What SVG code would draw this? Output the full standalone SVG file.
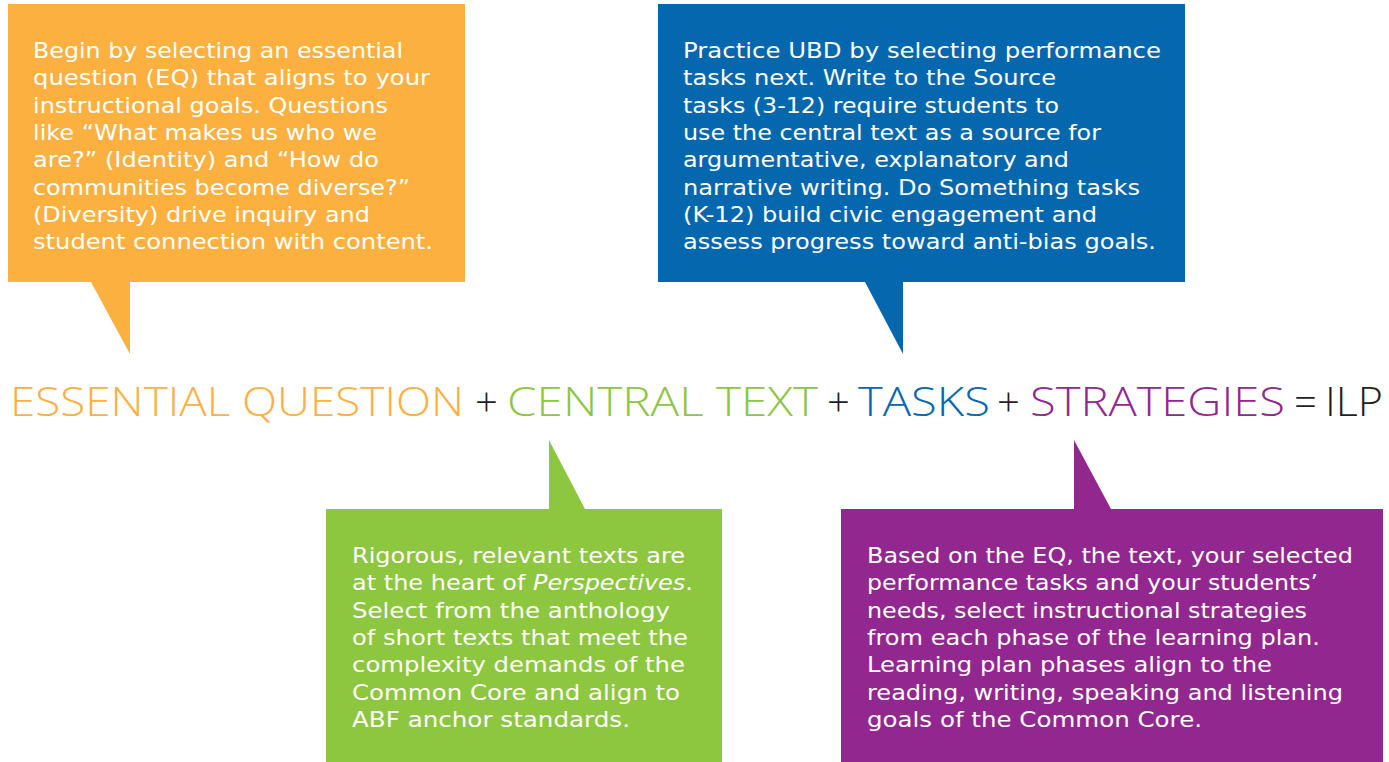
<svg xmlns="http://www.w3.org/2000/svg" width="1389" height="762" viewBox="0 0 1389 762">
<style>
.bt{font-family:"DejaVu Sans","Open Sans","Liberation Sans",sans-serif;font-size:22px;fill:#ffffff}
.eq{font-family:"Open Sans","Noto Sans","Liberation Sans",sans-serif;font-size:40px;font-weight:300}
.op{fill:#231f20}
</style>
<rect width="1389" height="762" fill="#ffffff"/>
<g id="essential-question-callout">
<path d="M8,4 H465 V282 H130 V354 L91,282 H8 Z" fill="#fbb040"/>
<text class="bt" x="33" y="58" textLength="370" lengthAdjust="spacingAndGlyphs">Begin by selecting an essential</text>
<text class="bt" x="33" y="85.3" textLength="397" lengthAdjust="spacingAndGlyphs">question (EQ) that aligns to your</text>
<text class="bt" x="33" y="112.6" textLength="355" lengthAdjust="spacingAndGlyphs">instructional goals. Questions</text>
<text class="bt" x="33" y="140" textLength="344" lengthAdjust="spacingAndGlyphs">like “What makes us who we</text>
<text class="bt" x="33" y="167.2" textLength="346" lengthAdjust="spacingAndGlyphs">are?” (Identity) and “How do</text>
<text class="bt" x="33" y="194.5" textLength="377" lengthAdjust="spacingAndGlyphs">communities become diverse?”</text>
<text class="bt" x="33" y="221.8" textLength="337" lengthAdjust="spacingAndGlyphs">(Diversity) drive inquiry and</text>
<text class="bt" x="33" y="249" textLength="400" lengthAdjust="spacingAndGlyphs">student connection with content.</text>
</g>
<g id="tasks-callout">
<path d="M658,4 H1185 V282 H903 V354 L865,282 H658 Z" fill="#0567ae"/>
<text class="bt" x="683" y="58" textLength="478" lengthAdjust="spacingAndGlyphs">Practice UBD by selecting performance</text>
<text class="bt" x="683" y="85.3" textLength="373" lengthAdjust="spacingAndGlyphs">tasks next. Write to the Source</text>
<text class="bt" x="683" y="112.6" textLength="376" lengthAdjust="spacingAndGlyphs">tasks (3-12) require students to</text>
<text class="bt" x="683" y="140" textLength="418" lengthAdjust="spacingAndGlyphs">use the central text as a source for</text>
<text class="bt" x="683" y="167.2" textLength="386" lengthAdjust="spacingAndGlyphs">argumentative, explanatory and</text>
<text class="bt" x="683" y="194.5" textLength="457" lengthAdjust="spacingAndGlyphs">narrative writing. Do Something tasks</text>
<text class="bt" x="683" y="221.8" textLength="414" lengthAdjust="spacingAndGlyphs">(K-12) build civic engagement and</text>
<text class="bt" x="683" y="249" textLength="473" lengthAdjust="spacingAndGlyphs">assess progress toward anti-bias goals.</text>
</g>
<g id="equation">
<text class="eq" x="10" y="416" fill="#fbb040" textLength="454" lengthAdjust="spacingAndGlyphs">ESSENTIAL QUESTION</text>
<text class="eq op" x="486.5" y="416" text-anchor="middle">+</text>
<text class="eq" x="507" y="416" fill="#8dc63f" textLength="311" lengthAdjust="spacingAndGlyphs">CENTRAL TEXT</text>
<text class="eq op" x="838.5" y="416" text-anchor="middle">+</text>
<text class="eq" x="858" y="416" fill="#0567ae" textLength="132" lengthAdjust="spacingAndGlyphs">TASKS</text>
<text class="eq op" x="1008.5" y="416" text-anchor="middle">+</text>
<text class="eq" x="1030" y="416" fill="#92278f" textLength="255" lengthAdjust="spacingAndGlyphs">STRATEGIES</text>
<text class="eq op" x="1305.5" y="416" text-anchor="middle">=</text>
<text class="eq op" x="1325" y="416" textLength="58" lengthAdjust="spacingAndGlyphs">ILP</text>
</g>
<g id="central-text-callout">
<path d="M326,509 H549 V440 L585,509 H722 V762 H326 Z" fill="#8dc63f"/>
<text class="bt" x="352" y="563" textLength="333" lengthAdjust="spacingAndGlyphs">Rigorous, relevant texts are</text>
<text class="bt" x="352" y="590.3" textLength="341" lengthAdjust="spacingAndGlyphs">at the heart of <tspan font-style="italic">Perspectives</tspan>.</text>
<text class="bt" x="352" y="617.6" textLength="318" lengthAdjust="spacingAndGlyphs">Select from the anthology</text>
<text class="bt" x="352" y="645" textLength="336" lengthAdjust="spacingAndGlyphs">of short texts that meet the</text>
<text class="bt" x="352" y="672.2" textLength="333" lengthAdjust="spacingAndGlyphs">complexity demands of the</text>
<text class="bt" x="352" y="699.5" textLength="328" lengthAdjust="spacingAndGlyphs">Common Core and align to</text>
<text class="bt" x="352" y="726.8" textLength="278" lengthAdjust="spacingAndGlyphs">ABF anchor standards.</text>
</g>
<g id="strategies-callout">
<path d="M841,509 H1074 V440 L1111,509 H1383 V762 H841 Z" fill="#92278f"/>
<text class="bt" x="867" y="563" textLength="486" lengthAdjust="spacingAndGlyphs">Based on the EQ, the text, your selected</text>
<text class="bt" x="867" y="590.3" textLength="451" lengthAdjust="spacingAndGlyphs">performance tasks and your students’</text>
<text class="bt" x="867" y="617.6" textLength="440" lengthAdjust="spacingAndGlyphs">needs, select instructional strategies</text>
<text class="bt" x="867" y="645" textLength="453" lengthAdjust="spacingAndGlyphs">from each phase of the learning plan.</text>
<text class="bt" x="867" y="672.2" textLength="405" lengthAdjust="spacingAndGlyphs">Learning plan phases align to the</text>
<text class="bt" x="867" y="699.5" textLength="476" lengthAdjust="spacingAndGlyphs">reading, writing, speaking and listening</text>
<text class="bt" x="867" y="726.8" textLength="335" lengthAdjust="spacingAndGlyphs">goals of the Common Core.</text>
</g>
</svg>
